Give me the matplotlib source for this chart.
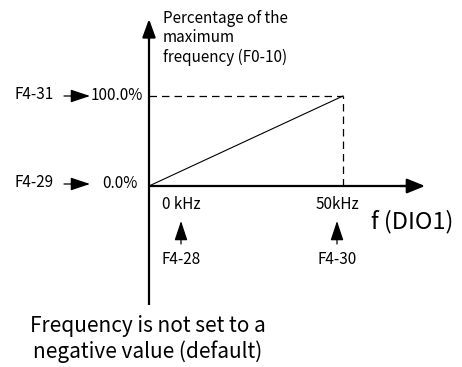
import matplotlib
matplotlib.use("Agg")
import matplotlib.pyplot as plt

# Data
freq_khz = [0, 50]
percent = [0, 100]
x_tick_labels = ["0 kHz", "50kHz"]
x_param_labels = ["F4-28", "F4-30"]
y_tick_labels = ["0.0%", "100.0%"]
y_param_labels = ["F4-29", "F4-31"]

plt.rcParams['font.family'] = ['Noto Sans CJK SC', 'DejaVu Sans']

W, H = 462, 367
fig = plt.figure(figsize=(W / 100, H / 100), dpi=100)
ax = fig.add_axes([0, 0, 1, 1])
ax.set_axis_off()

# pixel mapping
X0, X50 = 149, 343
Y0, Y100 = 186, 96
sx = (X50 - X0) / 50.0
sy = (Y0 - Y100) / 100.0
ax.set_xlim(-X0 / sx, (W - X0) / sx)
ax.set_ylim((Y0 - H) / sy, Y0 / sy)

def px(x, y):
    return ((x - X0) / sx, (Y0 - y) / sy)

# axes with arrows
ax.plot([0, 0], [px(0, 305)[1], px(0, 30)[1]], color='black', lw=1.6, solid_capstyle='butt')
ax.annotate('', xy=px(149, 19), xytext=px(149, 40),
            arrowprops=dict(arrowstyle='-|>,head_length=1.1,head_width=0.4', color='black',
                            lw=1.6, mutation_scale=10, shrinkA=0, shrinkB=0))
ax.plot([0, px(410, 0)[0]], [0, 0], color='black', lw=1.6, solid_capstyle='butt')
ax.annotate('', xy=px(425, 186), xytext=px(400, 186),
            arrowprops=dict(arrowstyle='-|>,head_length=1.1,head_width=0.45', color='black',
                            lw=1.6, mutation_scale=10, shrinkA=0, shrinkB=0))

# data line
ax.plot(freq_khz, percent, color='black', lw=0.8)
# dashed guides
ax.plot([0, freq_khz[1]], [percent[1], percent[1]], color='black', lw=0.9, dashes=(6, 4))
ax.plot([freq_khz[1], freq_khz[1]], [0, percent[1]], color='black', lw=0.9, dashes=(6, 4))

fs = 11
# y labels
for val, lab, plab, ytxt in zip(percent, y_tick_labels, y_param_labels, [184, 96]):
    ax.text(*px(143 if val else 138, ytxt), lab, ha='right', va='center', fontsize=fs)
    ax.text(*px(15, ytxt - 1), plab, ha='left', va='center', fontsize=fs)
    ax.annotate('', xy=px(90, ytxt), xytext=px(64, ytxt),
                arrowprops=dict(arrowstyle='-|>,head_length=1.2,head_width=0.4', color='black',
                                lw=0.9, mutation_scale=10, shrinkA=0, shrinkB=0))

# x labels
for f, lab, plab, xc in zip(freq_khz, x_tick_labels, x_param_labels, [181, 337]):
    ax.text(*px(xc, 205), lab, ha='center', va='center', fontsize=fs)
    ax.text(*px(xc, 260), plab, ha='center', va='center', fontsize=fs)
    ax.annotate('', xy=px(xc, 221), xytext=px(xc, 244),
                arrowprops=dict(arrowstyle='-|>,head_length=1.2,head_width=0.4', color='black',
                                lw=0.9, mutation_scale=10, shrinkA=0, shrinkB=0))

ax.text(*px(371, 222), "f (DIO1)", ha='left', va='center', fontsize=17)

ax.text(*px(163, 38), "Percentage of the\nmaximum\nfrequency (F0-10)", ha='left', va='center',
        fontsize=11, linespacing=1.2)

ax.text(*px(148, 339), "Frequency is not set to a\nnegative value (default)", ha='center',
        va='center', fontsize=15, linespacing=1.15)

fig.savefig("out.png", dpi=100)
